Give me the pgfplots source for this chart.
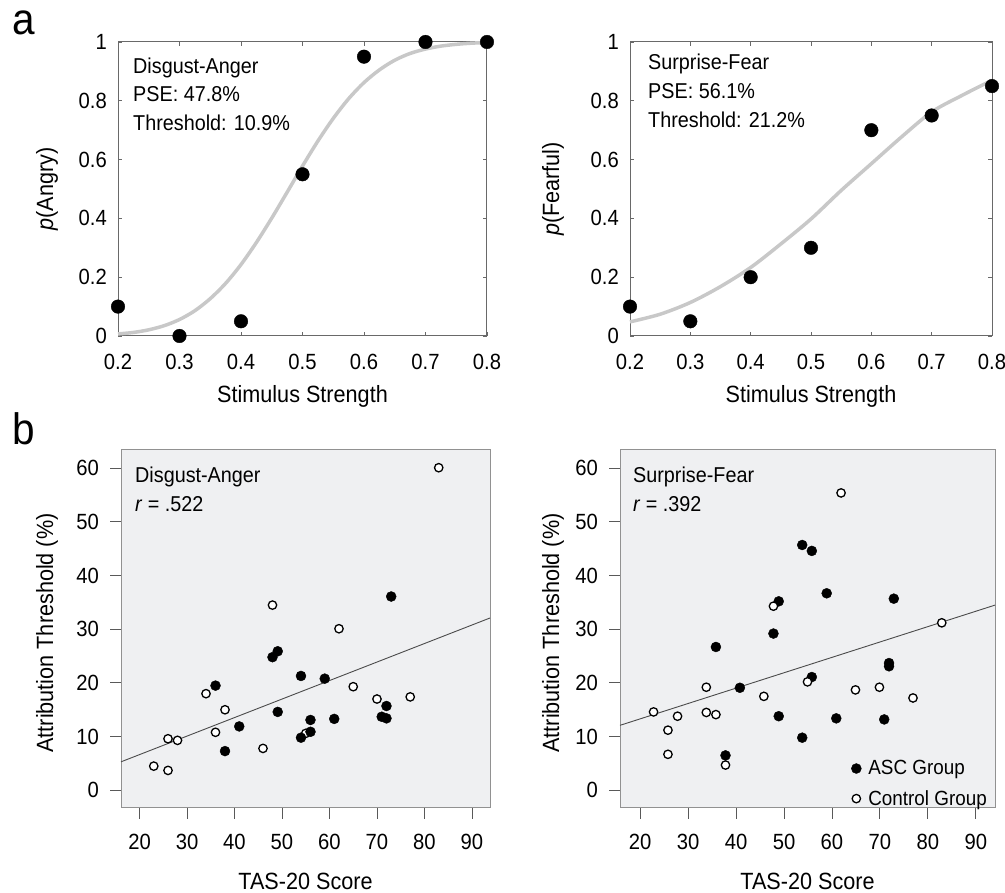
\documentclass[border=0pt]{standalone}
\usepackage{pgfplots}
\pgfplotsset{compat=1.18}
\usepackage{fontspec}
\setmainfont{Liberation Sans}[FakeStretch=0.92]
\definecolor{bggray}{RGB}{239,240,242}
\definecolor{framegray}{RGB}{145,145,145}
\definecolor{topframe}{RGB}{105,105,105}
\definecolor{curvegray}{RGB}{200,200,200}
\definecolor{regline}{RGB}{75,75,75}
\newcommand\tickf{\fontsize{22}{26}\selectfont}
\newcommand\labf{\fontsize{23.5}{28}\selectfont}
\newcommand\annf{\fontsize{21.5}{26}\selectfont}
\newcommand\legf{\fontsize{20.5}{24}\selectfont}
\newcommand\bigf{\fontsize{44}{52}\selectfont}
\pgfplotsset{
  topstyle/.style={scale only axis, anchor=south west, height=294pt,
    xmin=0.2, xmax=0.8, ymin=0, ymax=1,
    xtick={0.2,0.3,0.4,0.5,0.6,0.7,0.8}, ytick={0,0.2,0.4,0.6,0.8,1},
    tick align=inside, major tick length=4pt,
    tick style={draw=topframe, line width=0.8pt},
    axis line style={draw=topframe, line width=1pt},
    ticklabel style={font=\tickf},
    /pgf/number format/assume math mode=true,
    xticklabel style={anchor=base, inner sep=0pt, yshift=-34pt},
    yticklabel style={anchor=east, inner sep=0pt, xshift=-11pt},
    clip=false},
  bstyle/.style={scale only axis, anchor=south west, height=358pt,
    ymin=-3.3, ymax=63.4,
    xtick={20,30,40,50,60,70,80,90}, ytick={0,10,20,30,40,50,60},
    axis background/.style={fill=bggray},
    axis line style={draw=framegray, line width=1pt},
    tick align=outside, tick pos=left, major tick length=11pt,
    tick style={draw=black!65, line width=0.9pt},
    ticklabel style={font=\tickf},
    /pgf/number format/assume math mode=true,
    xticklabel style={anchor=base, inner sep=0pt, yshift=-31pt},
    yticklabel style={anchor=east, inner sep=0pt, xshift=-11pt},
    clip=false},
  ascmark/.style={only marks, mark=*, mark size=5pt, mark options={fill=black, draw=black}},
  ctlmark/.style={only marks, mark=*, mark size=4.2pt, mark options={fill=white, draw=black, line width=1.3pt}},
}
\begin{document}
\begin{tikzpicture}
\path[use as bounding box] (0pt,0pt) rectangle (1005pt,893pt);

% ---------- panel a, left ----------
\begin{axis}[topstyle, at={(118pt,557pt)}, width=369pt]
\addplot[smooth, draw=curvegray, line width=3.5pt] coordinates {
(0.200,0.007)(0.225,0.012)(0.250,0.021)(0.275,0.035)(0.300,0.056)
(0.325,0.086)(0.350,0.127)(0.375,0.179)(0.400,0.243)(0.425,0.318)
(0.450,0.401)(0.475,0.489)(0.500,0.578)(0.525,0.663)(0.550,0.740)
(0.575,0.807)(0.600,0.862)(0.625,0.905)(0.650,0.938)(0.675,0.961)
(0.700,0.976)(0.725,0.986)(0.750,0.992)(0.775,0.996)(0.800,0.998)};
\addplot[only marks, mark=*, mark size=6.8pt, black] coordinates {
(0.2,0.10)(0.3,0.00)(0.4,0.05)(0.5,0.55)(0.6,0.95)(0.7,1.00)(0.8,1.00)};
\end{axis}

% ---------- panel a, right ----------
\begin{axis}[topstyle, at={(630pt,557pt)}, width=362pt]
\addplot[smooth, draw=curvegray, line width=3.5pt] coordinates {
(0.20,0.048)(0.25,0.074)(0.30,0.114)(0.35,0.168)(0.40,0.233)
(0.45,0.313)(0.50,0.398)(0.55,0.495)(0.60,0.586)(0.65,0.677)
(0.70,0.762)(0.75,0.818)(0.80,0.870)};
\addplot[only marks, mark=*, mark size=6.8pt, black] coordinates {
(0.2,0.10)(0.3,0.05)(0.4,0.20)(0.5,0.30)(0.6,0.70)(0.7,0.75)(0.8,0.85)};
\end{axis}

% ---------- panel b, left ----------
\begin{axis}[bstyle, at={(121pt,85pt)}, width=369pt, xmin=16.1, xmax=93.8]
\addplot[regline, line width=0.9pt] coordinates {(16.1,5.3)(93.8,32.1)};
\addplot[ctlmark] coordinates {
(83,60.1)(48,34.5)(62,30.1)(65,19.3)(70,17.0)(77,17.4)(34,18.0)(38,15.0)
(36,10.8)(26,9.6)(28,9.3)(23,4.5)(26,3.7)(46,7.8)(55,10.6)};
\addplot[ascmark] coordinates {
(73,36.1)(48,24.8)(49.1,25.9)(54,21.3)(59,20.8)(36,19.5)(49.1,14.6)(56,13.1)
(61,13.3)(72,15.7)(71,13.7)(72,13.4)(41,11.9)(38,7.3)(54,9.8)(56,10.9)};
\end{axis}

% ---------- panel b, right ----------
\begin{axis}[bstyle, at={(620pt,85pt)}, width=375pt, xmin=15.8, xmax=94.0,
  legend style={draw=none, fill=none, font=\legf, at={(axis description cs:1,0)},
    anchor=south east, xshift=-8pt, yshift=1pt, inner sep=0pt, row sep=14pt,
    nodes={inner sep=0pt},
    /tikz/every odd column/.append style={column sep=7pt}},
  legend cell align=left,
  legend image code/.code={\draw[mark repeat=2,mark phase=2,#1] plot coordinates {(0pt,0pt)(5pt,0pt)(10pt,0pt)};}]
\addplot[regline, line width=0.9pt, forget plot] coordinates {(15.8,12.1)(94.0,34.5)};
\addplot[ascmark] coordinates {
(53.8,45.7)(55.8,44.6)(58.9,36.7)(72.9,35.7)(48.9,35.2)(47.8,29.2)(35.8,26.7)(71.9,23.7)
(71.9,23.1)(55.8,21.1)(40.8,19.1)(48.9,13.8)(60.9,13.4)(70.9,13.2)(53.8,9.8)(37.8,6.5)};
\addlegendentry{ASC Group}
\addplot[ctlmark] coordinates {
(61.9,55.4)(47.8,34.3)(82.9,31.2)(54.9,20.2)(64.9,18.7)(69.9,19.2)(76.9,17.2)(45.8,17.5)
(33.8,19.2)(33.8,14.5)(35.8,14.1)(22.8,14.6)(27.8,13.8)(25.8,11.2)(25.8,6.7)(37.8,4.7)};
\addlegendentry{Control Group}
\end{axis}

% ---------- labels ----------
\node[anchor=base west, inner sep=0pt, font=\bigf] at (12pt,858pt) {a};
\node[anchor=base west, inner sep=0pt, font=\bigf] at (12pt,448pt) {b};

\node[anchor=base, inner sep=0pt, font=\labf] at (302.5pt,490pt) {Stimulus Strength};
\node[anchor=base, inner sep=0pt, font=\labf] at (811pt,490pt) {Stimulus Strength};
\node[anchor=base, inner sep=0pt, font=\labf] at (305.5pt,3pt) {TAS-20 Score};
\node[anchor=base, inner sep=0pt, font=\labf] at (807.5pt,3pt) {TAS-20 Score};

\node[anchor=base, rotate=90, inner sep=0pt, font=\labf] at (53pt,704pt) {\textit{p}(Angry)};
\node[anchor=base, rotate=90, inner sep=0pt, font=\labf] at (559pt,704pt) {\textit{p}(Fearful)};
\node[anchor=base, rotate=90, inner sep=0pt, font=\labf] at (53pt,260pt) {Attribution Threshold (\%)};
\node[anchor=base, rotate=90, inner sep=0pt, font=\labf] at (559pt,260pt) {Attribution Threshold (\%)};

% annotations
\node[anchor=base west, inner sep=0pt, font=\annf] at (133pt,819pt) {Disgust-Anger};
\node[anchor=base west, inner sep=0pt, font=\annf] at (133pt,791pt) {PSE: 47.8\%};
\node[anchor=base west, inner sep=0pt, font=\annf] at (133pt,762pt) {Threshold: 10.9\%};
\node[anchor=base west, inner sep=0pt, font=\annf] at (648pt,823pt) {Surprise-Fear};
\node[anchor=base west, inner sep=0pt, font=\annf] at (648pt,794pt) {PSE: 56.1\%};
\node[anchor=base west, inner sep=0pt, font=\annf] at (648pt,765pt) {Threshold: 21.2\%};
\node[anchor=base west, inner sep=0pt, font=\annf] at (135pt,410pt) {Disgust-Anger};
\node[anchor=base west, inner sep=0pt, font=\annf] at (135pt,381pt) {\textit{r} = .522};
\node[anchor=base west, inner sep=0pt, font=\annf] at (633pt,410pt) {Surprise-Fear};
\node[anchor=base west, inner sep=0pt, font=\annf] at (633pt,381pt) {\textit{r} = .392};
\end{tikzpicture}
\end{document}
